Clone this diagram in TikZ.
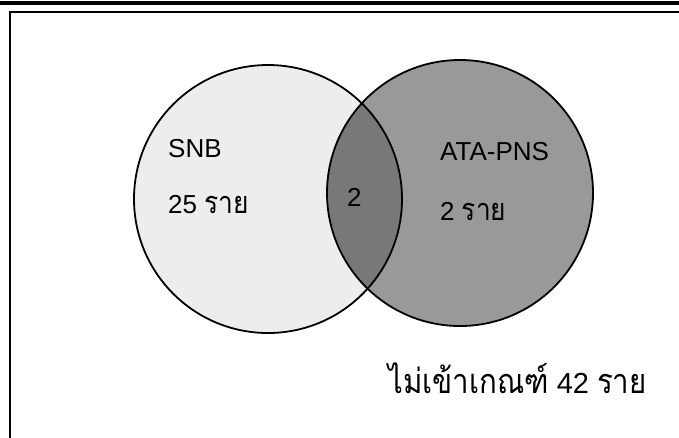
\documentclass[tikz,border=0pt]{standalone}
\usepackage{fontspec}
\setmainfont{Liberation Sans}
\newfontfamily\thaifont[Script=Thai,Scale=1.18,FakeStretch=0.86]{Loma}
\tikzset{
  lbl/.style={anchor=base west, inner sep=0pt, font=\fontsize{26}{31}\selectfont},
  biglbl/.style={anchor=base west, inner sep=0pt, font=\fontsize{29}{35}\selectfont},
  outline/.style={draw=black, line width=1.8pt}
}
\begin{document}
\begin{tikzpicture}[x=1pt,y=-1pt]
\useasboundingbox (0,0) rectangle (679,437);
% top rule and frame
\draw[line width=4pt] (0,3) -- (679,3);
\draw[line width=2pt] (700,12) -- (10,12) -- (10,460);
% circles
\coordinate (cl) at (268,199);
\coordinate (cr) at (460,193);
\fill[black!7] (cl) circle[radius=134pt];
\fill[black!40] (cr) circle[radius=133pt];
\begin{scope}
  \clip (cl) circle[radius=134pt];
  \fill[black!53] (cr) circle[radius=133pt];
\end{scope}
\draw[outline] (cl) circle[radius=134pt];
\draw[outline] (cr) circle[radius=133pt];
% labels
\node[lbl] (snb) at (168,157) {SNB};
\node[lbl] (snbn) at (168,213) {25 {\thaifont ราย}};
\node[lbl] (both) at (347,206) {2};
\node[lbl] (ata) at (440,160) {ATA-PNS};
\node[lbl] (atan) at (440,220) {2 {\thaifont ราย}};
\node[biglbl] (none) at (388,393) {{\thaifont ไม่เข้าเกณฑ์} 42 {\thaifont ราย}};
\end{tikzpicture}
\end{document}
